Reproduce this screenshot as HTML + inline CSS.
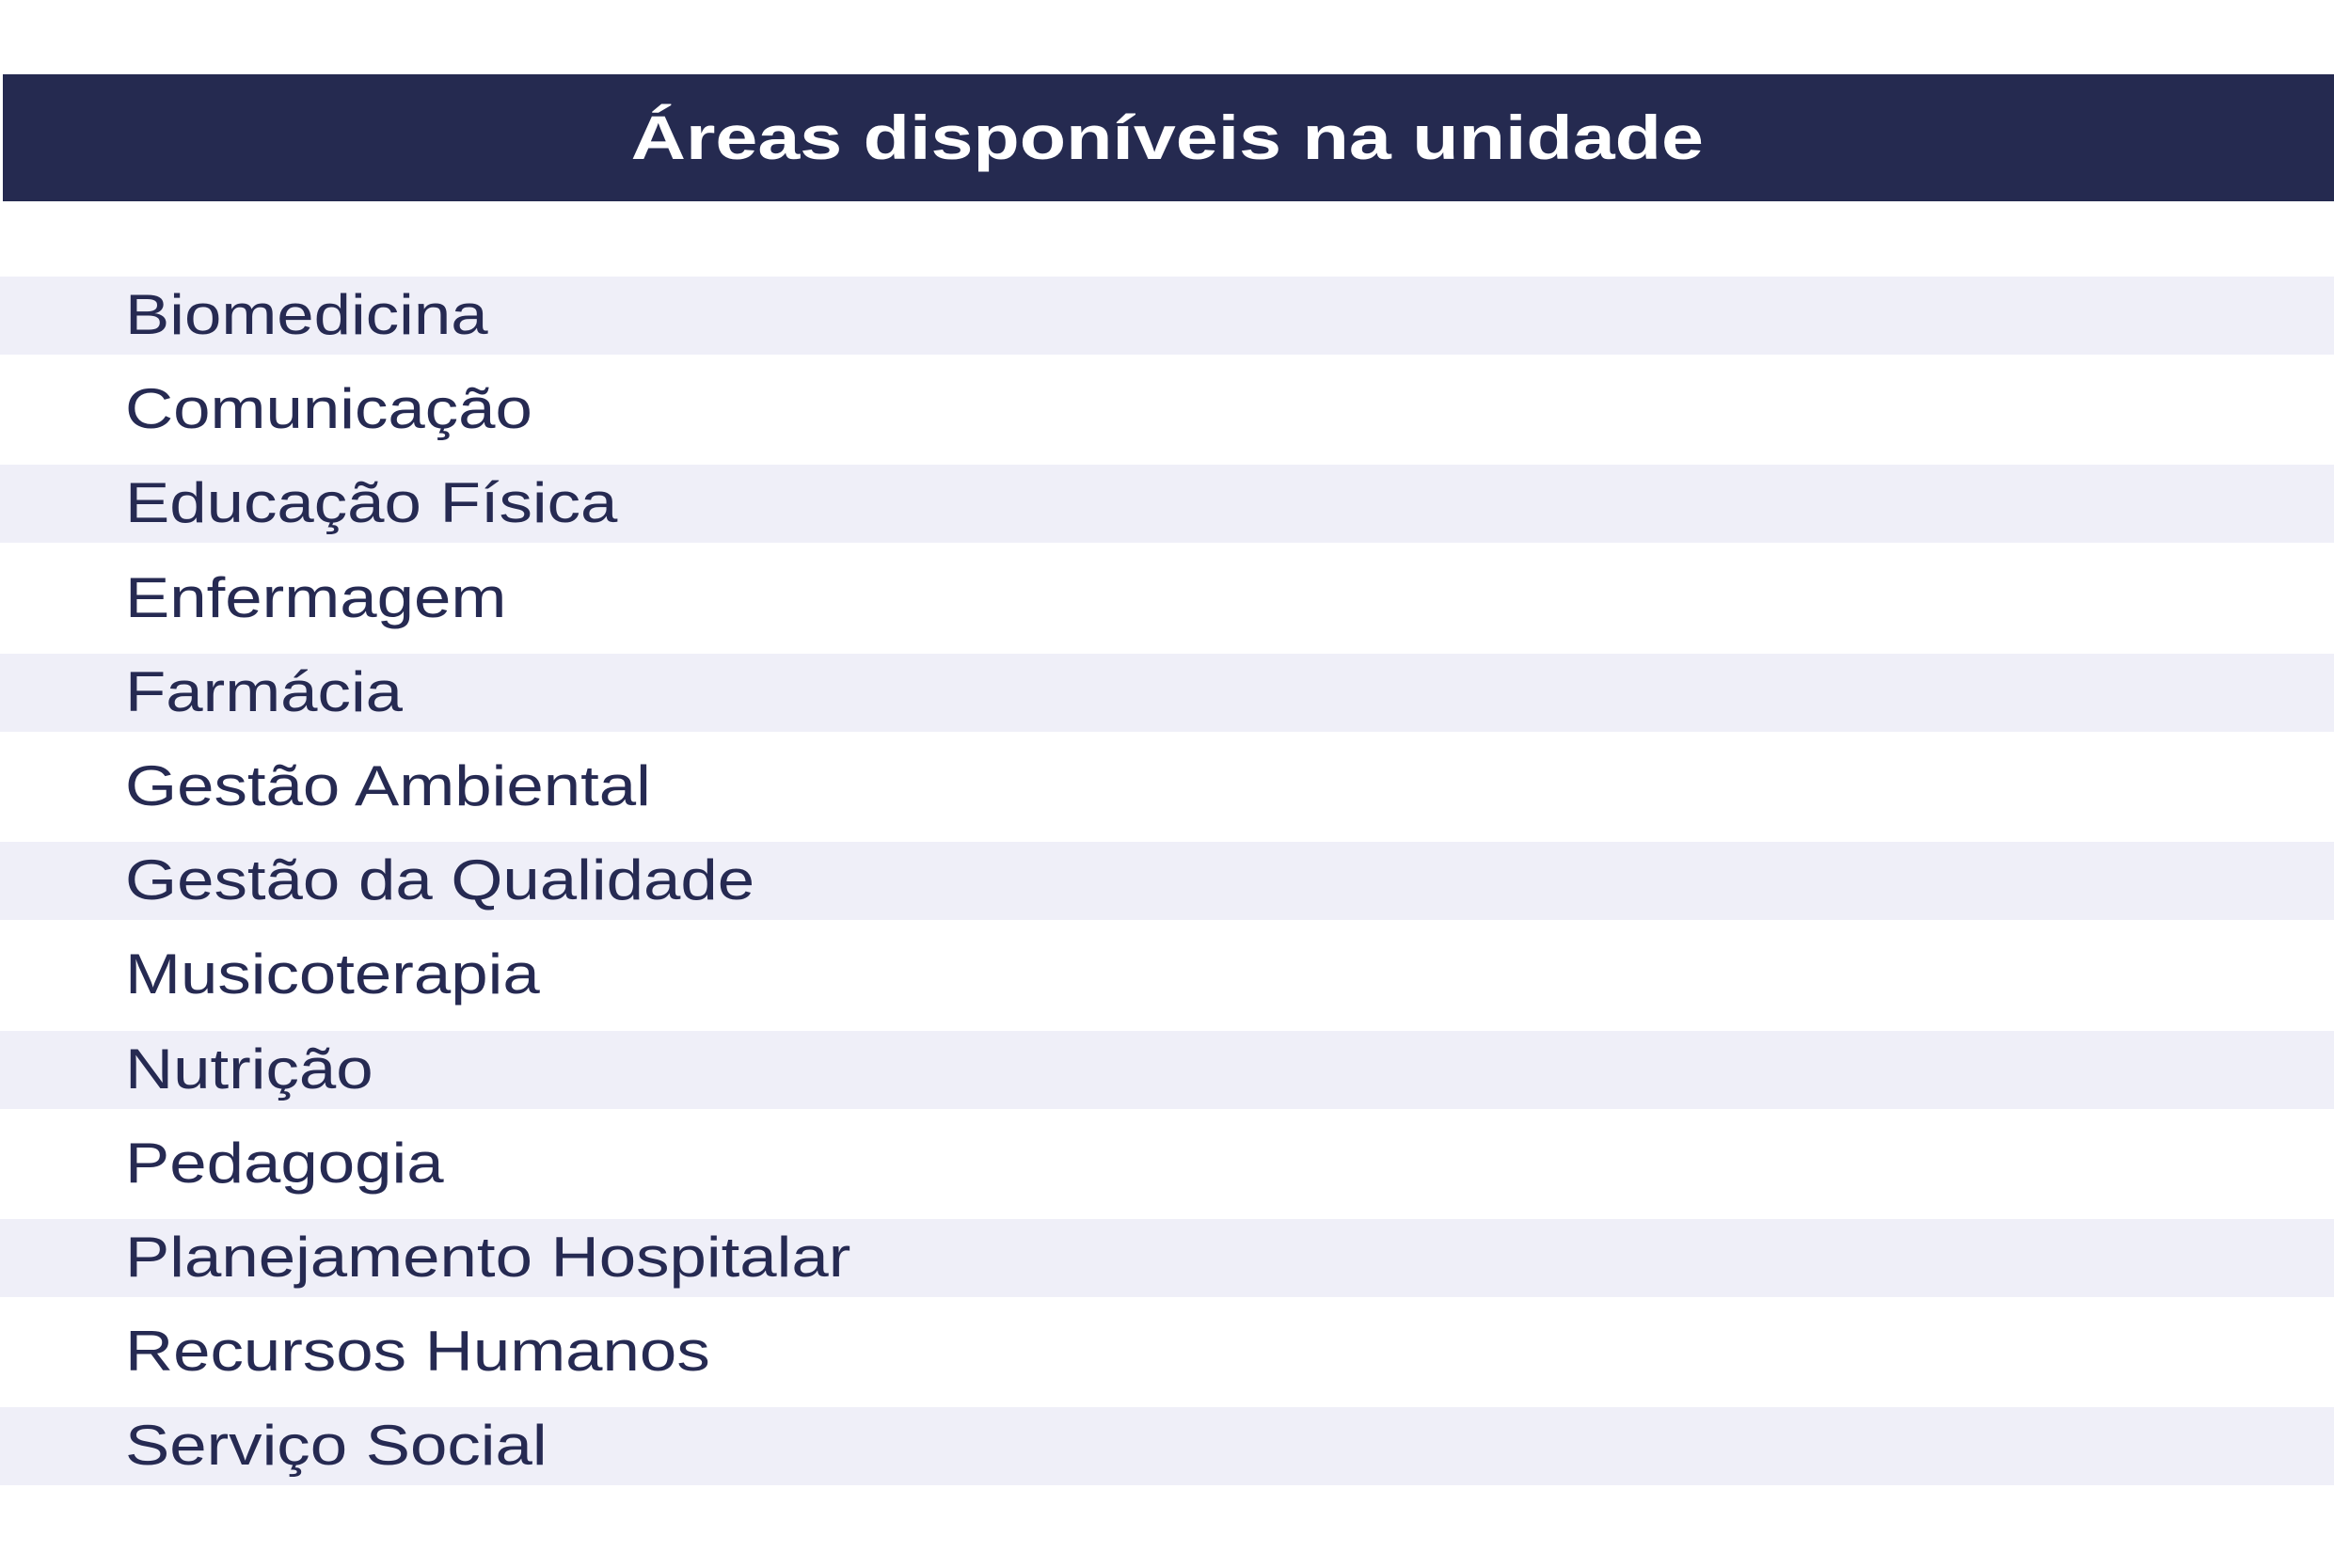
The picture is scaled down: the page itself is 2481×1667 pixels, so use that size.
<!DOCTYPE html>
<html><head><meta charset="utf-8"><style>
body{margin:0;width:2481px;height:1667px;background:#fff;position:relative;overflow:hidden;font-family:"Liberation Sans",sans-serif}
#hdr{position:absolute;left:3px;top:79px;width:2478px;height:135px;background:#252a50}
#title{position:absolute;left:0;width:2481px;top:79px;height:135px;line-height:135px;text-align:center;color:#fff;font-weight:bold;font-size:66px}
#title span{display:inline-block;transform:scaleX(1.224)}
.band{position:absolute;left:0;width:2481px;height:83px;background:#efeff8}
.row{position:absolute;left:133px;height:100px;line-height:100px;font-size:60px;color:#262a52;transform:scaleX(1.18);transform-origin:left center;white-space:nowrap}
</style></head><body>
<div id="hdr"></div>
<div id="title"><span>Áreas disponíveis na unidade</span></div>
<div id="rows"></div>
<script>
const areas=["Biomedicina","Comunicação","Educação Física","Enfermagem","Farmácia","Gestão Ambiental","Gestão da Qualidade","Musicoterapia","Nutrição","Pedagogia","Planejamento Hospitalar","Recursos Humanos","Serviço Social"];
const c=document.getElementById('rows');
areas.forEach((a,i)=>{
  const cy=335+i*100.2;
  if(i%2===0){
    const b=document.createElement('div');
    b.className='band';
    
    
    b.style.top=(cy-41)+'px';
    c.appendChild(b);
  }
  const t=document.createElement('div');
  t.className='row';
  
  
  t.style.top=(cy-50)+'px';
  t.textContent=a;
  c.appendChild(t);
});
</script>
</body></html>
